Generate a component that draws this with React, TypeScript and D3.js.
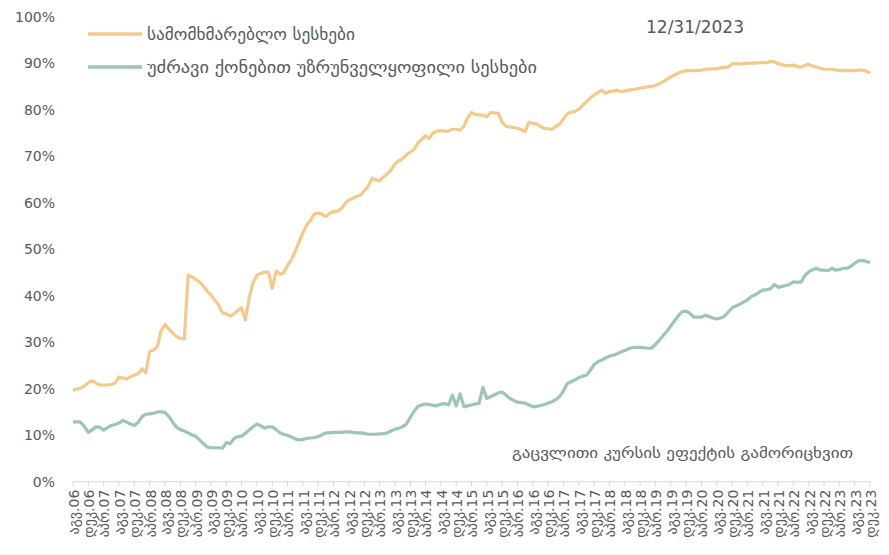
import React from "react";
import * as d3 from "d3";

const START = new Date(2006, 7, 1); // Aug 2006
const monthNames = ["იან", "თებ", "მარ", "აპრ", "მაი", "ივნ", "ივლ", "აგვ", "სექ", "ოქტ", "ნოე", "დეკ"];
const yTicks = [0, 0.1, 0.2, 0.3, 0.4, 0.5, 0.6, 0.7, 0.8, 0.9, 1.0];
const seriesNames = ["სამომხმარებლო სესხები", "უძრავი ქონებით უზრუნველყოფილი სესხები"];
const dateNote = "12/31/2023";
const fxNote = "გაცვლითი კურსის ეფექტის გამორიცხვით";

const consumer = [
  19.7, 19.9, 20.1, 20.6, 21.3, 21.7, 21.2, 20.8, 20.8, 20.8, 20.9, 21.2, 22.5, 22.3, 22.1, 22.6, 22.9, 23.2, 24.3, 23.4,
  28.0, 28.3, 29.0, 32.5, 33.8, 32.8, 32.0, 31.2, 30.8, 30.7, 44.4, 44.1, 43.5, 43.0, 42.1, 41.0, 40.2, 39.0, 38.0, 36.3,
  36.1, 35.6, 36.1, 36.8, 37.4, 34.8, 39.6, 42.8, 44.4, 44.8, 45.1, 45.0, 41.6, 45.3, 44.6, 44.9, 46.5, 47.7, 49.5, 51.5,
  53.5, 55.2, 56.2, 57.6, 57.8, 57.5, 57.0, 57.7, 58.1, 58.1, 58.7, 59.8, 60.6, 60.9, 61.4, 61.6, 62.6, 63.5, 65.3, 64.9,
  64.7, 65.5, 66.2, 67.0, 68.3, 69.0, 69.5, 70.3, 70.9, 71.5, 72.9, 73.6, 74.4, 73.8, 75.0, 75.4, 75.5, 75.4, 75.4, 75.8,
  75.8, 75.6, 76.4, 78.2, 79.4, 79.0, 78.9, 78.8, 78.5, 79.4, 79.3, 79.2, 77.3, 76.4, 76.3, 76.2, 76.0, 75.7, 75.3, 77.3,
  77.1, 76.9, 76.4, 76.0, 75.9, 75.8, 76.4, 76.9, 78.0, 79.1, 79.5, 79.6, 80.1, 81.0, 81.7, 82.5, 83.2, 83.7, 84.2, 83.5,
  83.9, 84.0, 84.2, 83.9, 84.0, 84.2, 84.3, 84.5, 84.6, 84.8, 84.9, 85.0, 85.2, 85.6, 86.0, 86.5, 87.0, 87.5, 87.9, 88.2,
  88.4, 88.4, 88.4, 88.4, 88.5, 88.7, 88.7, 88.8, 88.8, 89.0, 89.1, 89.2, 89.9, 89.9, 89.8, 89.9, 90.0, 90.0, 90.0, 90.1,
  90.1, 90.1, 90.4, 90.3, 89.9, 89.7, 89.5, 89.5, 89.6, 89.3, 89.1, 89.5, 89.8, 89.4, 89.2, 88.9, 88.7, 88.7, 88.7, 88.6,
  88.4, 88.4, 88.4, 88.4, 88.4, 88.5, 88.5, 88.3, 87.9,
];

const mortgage = [
  12.8, 12.9, 12.8, 11.8, 10.6, 11.2, 11.8, 11.7, 11.1, 11.6, 12.1, 12.3, 12.6, 13.2, 12.8, 12.4, 12.1, 12.8, 14.0, 14.5,
  14.6, 14.7, 15.0, 15.0, 14.9, 14.0, 12.8, 11.7, 11.2, 10.9, 10.5, 10.1, 9.8, 9.0, 8.2, 7.5, 7.3, 7.3, 7.3, 7.2,
  8.4, 8.2, 9.3, 9.7, 9.8, 10.4, 11.1, 11.8, 12.4, 12.0, 11.5, 11.8, 11.8, 11.2, 10.5, 10.2, 10.0, 9.6, 9.2, 9.0,
  9.1, 9.3, 9.4, 9.5, 9.7, 10.1, 10.5, 10.5, 10.6, 10.6, 10.6, 10.7, 10.7, 10.6, 10.5, 10.5, 10.4, 10.2, 10.2, 10.2,
  10.3, 10.3, 10.5, 10.9, 11.3, 11.5, 11.8, 12.4, 13.8, 15.2, 16.2, 16.5, 16.7, 16.6, 16.4, 16.3, 16.7, 16.8, 16.5, 18.6,
  16.3, 18.9, 16.1, 16.3, 16.5, 16.7, 16.9, 20.3, 17.9, 18.3, 18.7, 19.1, 19.3, 18.6, 17.9, 17.5, 17.1, 17.0, 16.9, 16.5,
  16.1, 16.2, 16.4, 16.6, 16.9, 17.2, 17.7, 18.3, 19.5, 21.1, 21.5, 21.9, 22.4, 22.7, 22.9, 24.0, 25.2, 25.8, 26.2, 26.6,
  27.0, 27.2, 27.5, 27.9, 28.2, 28.6, 28.8, 28.9, 28.9, 28.8, 28.7, 28.7, 29.5, 30.4, 31.4, 32.3, 33.5, 34.6, 35.7, 36.6,
  36.7, 36.2, 35.4, 35.4, 35.4, 35.8, 35.5, 35.2, 35.0, 35.2, 35.6, 36.5, 37.4, 37.8, 38.2, 38.6, 39.1, 39.8, 40.2, 40.7,
  41.2, 41.3, 41.5, 42.4, 41.8, 42.0, 42.2, 42.4, 43.0, 42.9, 42.9, 44.3, 45.1, 45.6, 45.9, 45.5, 45.5, 45.4, 45.9, 45.5,
  45.6, 45.9, 45.9, 46.3, 47.0, 47.5, 47.6, 47.4, 47.1,
];

const colors = ["#F3CA8A", "#9DC6AF"];

export default function App() {
  const W = 889, H = 555;
  const left = 73, right = 870, top = 16.7, bottom = 481.7;
  const dates = consumer.map((_, i) => d3.timeMonth.offset(START, i));
  const x = d3.scaleTime().domain([dates[0], dates[dates.length - 1]]).range([left, right]);
  const y = d3.scaleLinear().domain([0, 1]).range([bottom, top]);
  const line = d3.line<number>().x((_, i) => x(dates[i])).y((v) => y(v / 100));
  const tickDates = dates.filter((_, i) => i % 4 === 0);
  const fmt = (d: Date) => `${monthNames[d.getMonth()]}.${String(d.getFullYear() % 100).padStart(2, "0")}`;
  const font = "'DejaVu Sans', sans-serif";
  const textColor = "#595959";

  return (
    <svg width={W} height={H} style={{ position: "absolute", left: 0, top: 0 }} fontFamily={font}>
      <rect width={W} height={H} fill="#fff" />
      {yTicks.map((t) => (
        <text key={t} x={55} y={y(t)} dy="0.35em" textAnchor="end" fontSize={14} fill={textColor}>
          {d3.format(".0%")(t)}
        </text>
      ))}
      <line x1={left} x2={right} y1={bottom} y2={bottom} stroke="#d9d9d9" strokeWidth={1} />
      {tickDates.map((d, i) => (
        <g key={i}>
          <line x1={x(d)} x2={x(d)} y1={bottom} y2={bottom + 5} stroke="#d9d9d9" />
          <text
            transform={`translate(${x(d) + 1},${bottom + 8}) rotate(-90)`}
            textAnchor="end"
            dy="0.35em"
            fontSize={14}
            fill={textColor}
          >
            {fmt(d)}
          </text>
        </g>
      ))}
      <path d={line(consumer) || ""} fill="none" stroke={colors[0]} strokeWidth={3.2} strokeLinejoin="round" />
      <path d={line(mortgage) || ""} fill="none" stroke={colors[1]} strokeWidth={3.2} strokeLinejoin="round" />
      {seriesNames.map((n, i) => (
        <g key={n}>
          <line x1={88} x2={142} y1={34 + i * 33} y2={34 + i * 33} stroke={colors[i]} strokeWidth={3.5} />
          <text x={147} y={34 + i * 33} dy="0.35em" fontSize={16} fill={textColor}
            textLength={i === 0 ? 208 : 390} lengthAdjust="spacingAndGlyphs">
            {n}
          </text>
        </g>
      ))}
      <text x={695} y={27} dy="0.35em" textAnchor="middle" fontSize={17} fill={textColor}>
        {dateNote}
      </text>
      <text x={512} y={453} dy="0.35em" fontSize={15} fill={textColor} textLength={341} lengthAdjust="spacingAndGlyphs">
        {fxNote}
      </text>
    </svg>
  );
}
